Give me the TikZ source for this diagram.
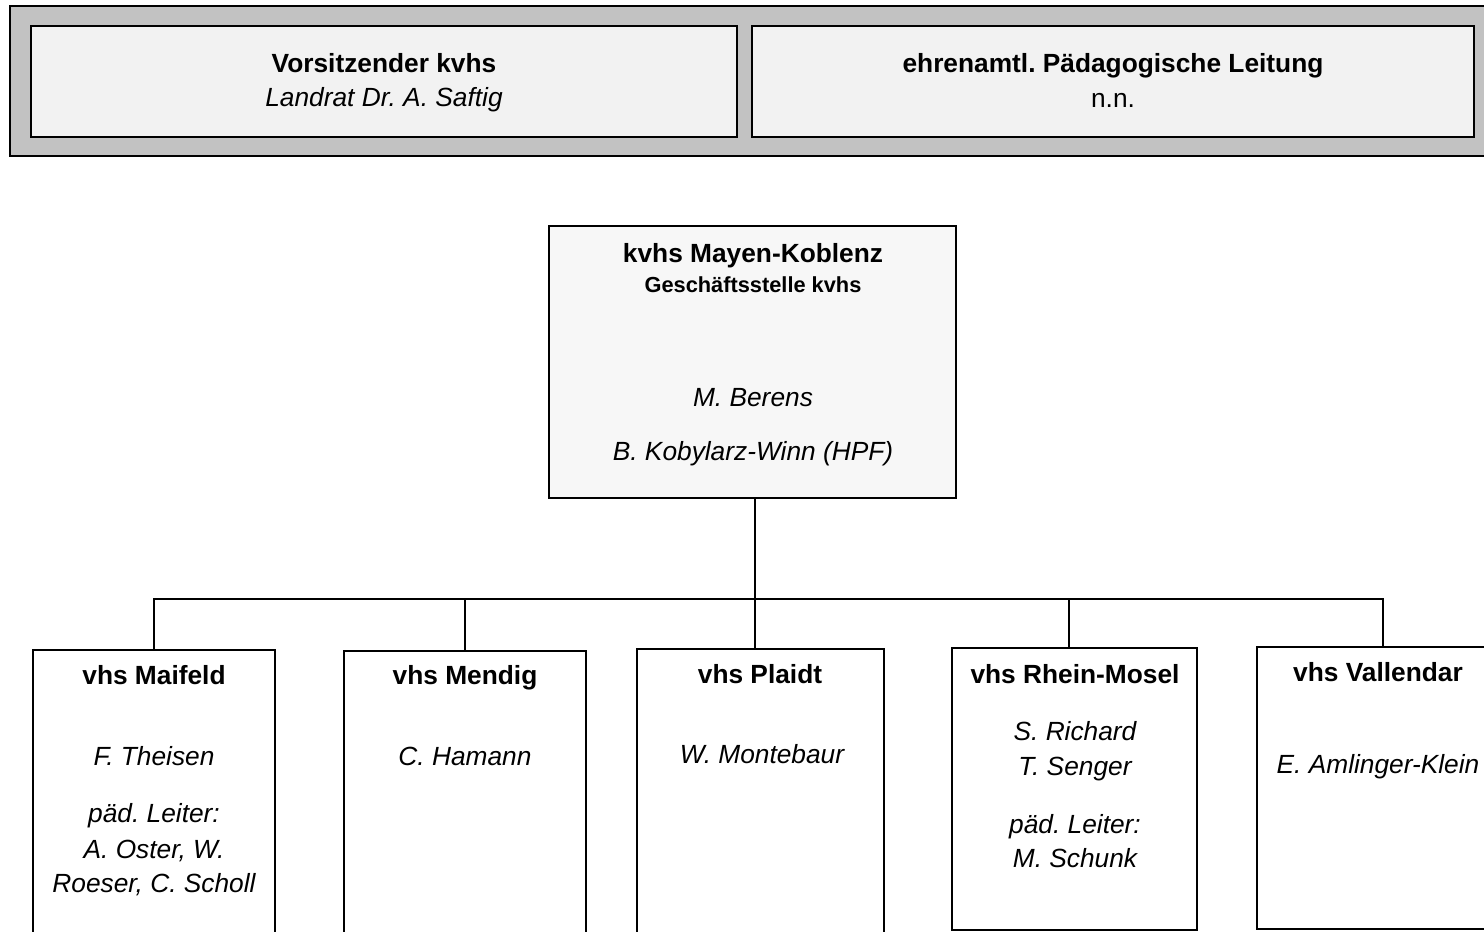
\documentclass[tikz,border=0pt]{standalone}
\usepackage{fontspec}
\setmainfont{Liberation Sans}
\usetikzlibrary{positioning}
\frenchspacing

\tikzset{
  box/.style={draw=black, line width=1.6pt, inner sep=0pt},
  wire/.style={draw=black, line width=1.3pt},
  title/.style={font=\fontsize{26.3}{35}\selectfont\bfseries, anchor=base},
  subtitle/.style={font=\fontsize{21.8}{28}\selectfont\bfseries, anchor=base},
  person/.style={font=\fontsize{26.3}{35}\selectfont\itshape, anchor=base},
  plain/.style={font=\fontsize{26.3}{35}\selectfont, anchor=base}
}

\begin{document}
\begin{tikzpicture}[x=1pt,y=-1pt]
    % page
    \useasboundingbox (0,0) rectangle (1484,932);
    \clip (0,0) rectangle (1484,932);
    % top band
    \node[box, line width=2.6pt, fill=black!24, minimum width=1500pt, minimum height=150pt] (band) at (760,81) {};
    \node[box, fill=black!5, minimum width=706pt, minimum height=111pt] (chair) at (384,81.5) {};
    \node[box, fill=black!5, minimum width=722pt, minimum height=111pt] (paed) at (1113,81.5) {};
    \node[title] (chairT) at (384,72) {Vorsitzender kvhs};
    \node[person] (chairN) at (384,106) {Landrat Dr. A. Saftig};
    \node[title] (paedT) at (1113,72) {ehrenamtl. Pädagogische Leitung};
    \node[plain] (paedN) at (1113,107) {n.n.};
    % head office
    \node[box, fill=black!3, minimum width=407pt, minimum height=272pt] (kvhs) at (752.5,362) {};
    \node[title] (kvhsT) at (753,262) {kvhs Mayen-Koblenz};
    \node[subtitle] (kvhsS) at (753,292) {Geschäftsstelle kvhs};
    \node[person] (kvhsA) at (753,406) {M. Berens};
    \node[person] (kvhsB) at (753,460) {B. Kobylarz-Winn (HPF)};
    % local vhs
    \foreach \Box/\X/\Y/\W/\H in {maifeld/154/805/242/310, mendig/465/806/242/310,
        plaidt/760.5/804/247/310, rhein/1074.5/789/245/282, vallendar/1378/788/242/282}
    \node[box, minimum width=\W pt, minimum height=\H pt] (\Box) at (\X,\Y) {};
    % lines
    \coordinate (bus) at (755,599);
    \draw[wire] (kvhs.south -| bus) -- (bus);
    \foreach \Box/\dx in {maifeld/0, mendig/0, plaidt/-5.5, rhein/-5.5, vallendar/5}
    \draw[wire] ([xshift=\dx pt]\Box.north) |- (bus);
    % texts
    \node[title] (maifeldT) at (154,684) {vhs Maifeld};
    \node[person] (maifeldA) at (154,765) {F. Theisen};
    \node[person] (maifeldB) at (154,822) {päd. Leiter:};
    \node[person] (maifeldC) at (154,858) {A. Oster, W.};
    \node[person] (maifeldD) at (154,892) {Roeser, C. Scholl};
    \node[title] (mendigT) at (465,684) {vhs Mendig};
    \node[person] (mendigA) at (465,765) {C. Hamann};
    \node[title] (plaidtT) at (760,683) {vhs Plaidt};
    \node[person] (plaidtA) at (762,763) {W. Montebaur};
    \node[title] (rheinT) at (1075,683) {vhs Rhein-Mosel};
    \node[person] (rheinA) at (1075,740) {S. Richard};
    \node[person] (rheinB) at (1075,775) {T. Senger};
    \node[person] (rheinC) at (1075,833) {päd. Leiter:};
    \node[person] (rheinD) at (1075,867) {M. Schunk};
    \node[title] (vallendarT) at (1378,681) {vhs Vallendar};
    \node[person] (vallendarA) at (1378,773) {E. Amlinger-Klein};
\end{tikzpicture}
\end{document}
